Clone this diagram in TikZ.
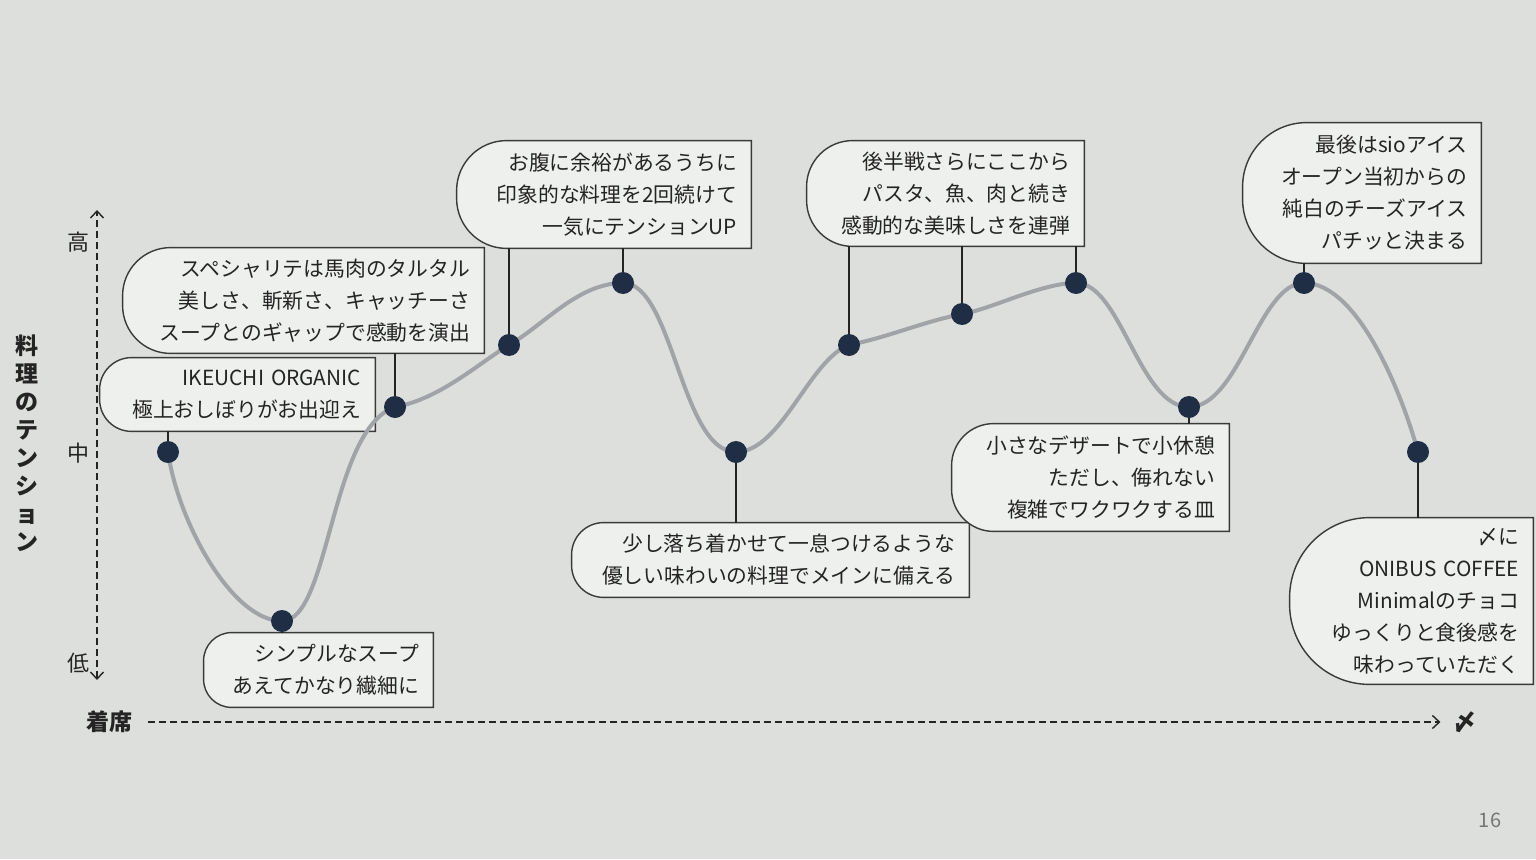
\documentclass[tikz,border=0pt]{standalone}
\usepackage{fontspec}
\setmainfont{Noto Sans CJK JP}
\usetikzlibrary{arrows.meta,backgrounds}

\definecolor{pagebg}{RGB}{221,223,220}
\definecolor{cardbg}{RGB}{238,240,237}
\definecolor{ink}{RGB}{36,36,36}
\definecolor{dotnavy}{RGB}{31,45,69}
\definecolor{wave}{RGB}{160,164,166}
\definecolor{pagenum}{RGB}{118,118,118}

\newcommand\cardfont{\fontsize{10.4}{16}\selectfont}
\newcommand\axisfont{\fontsize{11.5}{14}\selectfont}

\tikzset{
  card/.style 2 args={rectangle, inner xsep=7pt, inner ysep=0pt, text width=#1,
    minimum height=#2, align=right, font=\cardfont, text=ink},
  cardline/.style={draw=ink!90, line width=0.7pt, fill=cardbg},
  dot/.style={circle, fill=dotnavy, inner sep=0pt, minimum size=11pt},
  link/.style={draw=ink, line width=0.7pt},
  wave line/.style={wave, line width=2pt, line cap=round},
  axisline/.style={ink, line width=0.65pt, dash pattern=on 3.5pt off 2pt},
  chev/.tip={Straight Barb[length=3.5pt, width=6.5pt, line width=0.7pt]},
  axislabel/.style={font=\fontsize{11}{13}\selectfont, text=ink},
}

\begin{document}
\begin{tikzpicture}[x=0.5pt, y=0.5pt]
    \useasboundingbox (0,0) rectangle (1536,859);
    \begin{scope}[on background layer]
        \fill[pagebg] (0,0) rectangle (1536,859);
    \end{scope}

    % tension curve
    \foreach \i/\x/\y in {1/168/407, 2/282/238, 3/395/452, 4/509/514, 5/623/576, 6/736/407,
                          7/849/514, 8/962/545, 9/1076/576, 10/1189/452, 11/1304/576, 12/1418/407}
        \coordinate (p\i) at (\x,\y);

    \draw[wave line] (p1) .. controls +(10,-70) and +(-50,0) .. (p2)
        .. controls +(48,0) and +(-65,-22) .. (p3)
        .. controls +(45,8) and +(-30,-18) .. (p4)
        .. controls +(35,20) and +(-45,0) .. (p5)
        .. controls +(50,0) and +(-55,0) .. (p6)
        .. controls +(45,0) and +(-40,-15) .. (p7)
        .. controls +(40,8) and +(-40,-8) .. (p8)
        .. controls +(30,5) and +(-35,0) .. (p9)
        .. controls +(45,0) and +(-50,0) .. (p10)
        .. controls +(50,0) and +(-45,0) .. (p11)
        .. controls +(55,0) and +(-15,55) .. (p12);

    \foreach \i in {1,...,12}
        \node[dot] (d\i) at (p\i) {};

    % cards
    \node[card={123.5pt}{36.5pt}] (b1) at (237.5,464.5) {IKEUCHI ORGANIC\\極上おしぼりがお出迎え};
    \node[card={166.5pt}{52.5pt}] (b2) at (303.5,558.5) {スペシャリテは馬肉のタルタル\\美しさ、斬新さ、キャッチーさ\\スープとのギャップで感動を演出};
    \node[card={133pt}{53.5pt}] (b3) at (604,664.5) {お腹に余裕があるうちに\\印象的な料理を2回続けて\\一気にテンションUP};
    \node[card={124.5pt}{52.5pt}] (b4) at (945.5,665.5) {後半戦さらにここから\\パスタ、魚、肉と続き\\感動的な美味しさを連弾};
    \node[card={105pt}{70pt}] (b5) at (1362,666) {最後はsioアイス\\オープン当初からの\\純白のチーズアイス\\パチッと決まる};
    \node[card={100.5pt}{37pt}] (b6) at (318.5,189) {シンプルなスープ\\あえてかなり繊細に};
    \node[card={184.5pt}{37pt}] (b7) at (770.5,299) {少し落ち着かせて一息つけるような\\優しい味わいの料理でメインに備える};
    \node[card={124.5pt}{53.5pt}] (b8) at (1090.5,381.5) {小さなデザートで小休憩\\ただし、侮れない\\複雑でワクワクする皿};
    \node[card={107.5pt}{83pt}] (b9) at (1411.5,258) {〆に\\ONIBUS COFFEE\\Minimalのチョコ\\ゆっくりと食後感を\\味わっていただく};

    \begin{scope}[on background layer]
        \foreach \b/\r in {b1/16pt, b2/24pt, b3/25pt, b4/23pt, b5/32pt, b6/14pt, b7/16pt, b8/21pt, b9/40pt}
            \draw[cardline] (\b.north east) -- ([xshift=\r]\b.north west)
                arc[start angle=90, end angle=180, radius=\r] -- ([yshift=\r]\b.south west)
                arc[start angle=180, end angle=270, radius=\r] -- (\b.south east) -- cycle;
    \end{scope}

    % connectors
    \foreach \d/\b in {d1/b1, d3/b2, d4/b3, d5/b3, d7/b4, d8/b4, d9/b4, d11/b5}
        \draw[link] (\d |- \b.south) -- (\d);
    \foreach \d/\b in {d2/b6, d6/b7, d10/b8, d12/b9}
        \draw[link] (\d) -- (\d |- \b.north);

    % axes
    \node[axislabel] (high) at (78,617) {高};
    \node[axislabel] (mid) at (78,406) {中};
    \node[axislabel] (low) at (78,196) {低};
    \node[font=\bfseries\axisfont, align=center, text=ink] (ytitle) at (27,416) {料\\理\\の\\テ\\ン\\シ\\ョ\\ン};
    \coordinate (ytop) at (97,649);
    \coordinate (ybot) at (97,179);
    \draw[axisline, chev-chev] (ybot) -- (ytop);

    \node[font=\bfseries\axisfont, text=ink] (seat) at (109,137) {着席};
    \node[font=\bfseries\axisfont, text=ink] (fin) at (1465,137) {〆};
    \draw[axisline, -chev] ([xshift=4.5pt]seat.east) -- ([xshift=-3pt]fin.west);

    \node[font=\fontsize{10}{12}\selectfont, text=pagenum] (page) at (1490,39) {16};
\end{tikzpicture}
\end{document}
